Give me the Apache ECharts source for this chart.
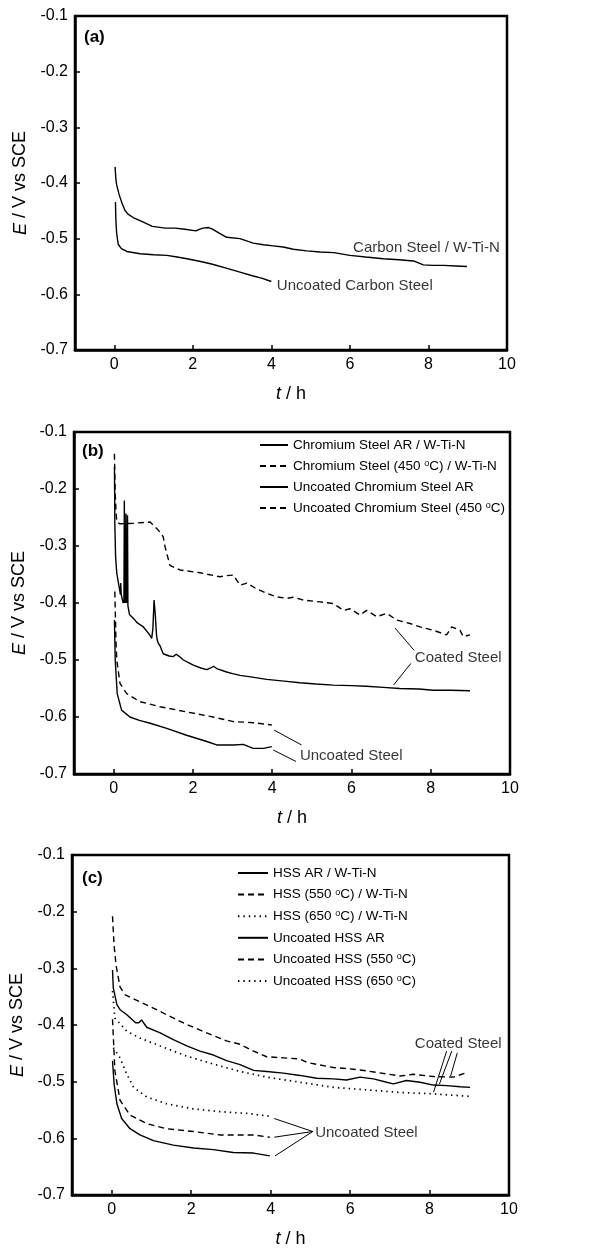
<!DOCTYPE html>
<html>
<head>
<meta charset="utf-8">
<script src="https://cdn.jsdelivr.net/npm/echarts@6/dist/echarts.min.js"></script>
<style>
  html, body { margin: 0; padding: 0; background: #fff; }
  #chart { width: 604px; height: 1249px; }
</style>
</head>
<body>
<div id="chart"></div>
<script>
// Open-circuit potential E (V vs SCE) against immersion time t (h)

// (a) carbon steel
const carbonCoated = [
  [0.02,-0.371],[0.04,-0.392],[0.06,-0.403],[0.12,-0.420],[0.2,-0.437],[0.27,-0.449],[0.35,-0.456],
  [0.48,-0.462],[0.7,-0.469],[0.97,-0.478],[1.3,-0.481],[1.55,-0.481],[1.8,-0.483],[2.08,-0.486],
  [2.18,-0.483],[2.26,-0.481],[2.4,-0.480],[2.5,-0.483],[2.65,-0.489],[2.86,-0.4975],[3.2,-0.500],
  [3.54,-0.508],[3.8,-0.511],[4.05,-0.513],[4.3,-0.515],[4.56,-0.519],[4.9,-0.522],[5.24,-0.524],
  [5.59,-0.525],[6.0,-0.530],[6.4,-0.533],[6.85,-0.536],[7.25,-0.538],[7.62,-0.540],[7.87,-0.547],
  [8.1,-0.548],[8.38,-0.548],[8.7,-0.549],[8.98,-0.550]
];
const carbonBare = [
  [0.03,-0.434],[0.04,-0.465],[0.06,-0.490],[0.1,-0.510],[0.18,-0.518],[0.32,-0.523],[0.66,-0.527],
  [1.0,-0.529],[1.34,-0.530],[1.6,-0.533],[1.85,-0.536],[2.2,-0.541],[2.5,-0.546],[2.85,-0.553],
  [3.2,-0.560],[3.54,-0.567],[3.75,-0.571],[4.0,-0.577]
];

// (b) chromium steel
const chromeCoatedAR = [
  [0.02,-0.161],[0.025,-0.2],[0.03,-0.26],[0.05,-0.32],[0.08,-0.348],[0.14,-0.372],[0.17,-0.385],
  [0.18,-0.365],[0.19,-0.385],[0.24,-0.400],[0.26,-0.395],[0.27,-0.220],[0.28,-0.400],[0.29,-0.260],
  [0.30,-0.400],[0.31,-0.243],[0.32,-0.400],[0.33,-0.270],[0.34,-0.400],[0.35,-0.246],[0.36,-0.405],
  [0.40,-0.420],[0.5,-0.427],[0.6,-0.435],[0.75,-0.442],[0.9,-0.455],[0.96,-0.462],[0.99,-0.445],
  [1.02,-0.395],[1.05,-0.420],[1.08,-0.455],[1.1,-0.465],[1.13,-0.471],[1.17,-0.475],[1.25,-0.489],
  [1.4,-0.493],[1.5,-0.494],[1.58,-0.490],[1.62,-0.488],[1.66,-0.494],[1.76,-0.500],[1.9,-0.505],
  [2.01,-0.509],[2.2,-0.514],[2.35,-0.517],[2.45,-0.514],[2.52,-0.511],[2.6,-0.515],[2.85,-0.521],
  [3.0,-0.524],[3.19,-0.527],[3.5,-0.530],[3.86,-0.534],[4.3,-0.537],[4.7,-0.540],[5.1,-0.542],
  [5.54,-0.544],[6.0,-0.545],[6.38,-0.546],[6.8,-0.548],[7.22,-0.550],[7.7,-0.551],[8.07,-0.553],
  [8.5,-0.553],[8.99,-0.554]
];
const chromeCoated450 = [
  [0.02,-0.138],[0.04,-0.208],[0.06,-0.240],[0.08,-0.258],[0.16,-0.261],[0.5,-0.260],[0.92,-0.258],
  [1.08,-0.269],[1.2,-0.278],[1.25,-0.284],[1.3,-0.302],[1.42,-0.334],[1.67,-0.342],[2.18,-0.347],
  [2.68,-0.354],[2.85,-0.352],[3.02,-0.351],[3.19,-0.369],[3.36,-0.365],[3.6,-0.375],[3.86,-0.383],
  [4.1,-0.389],[4.37,-0.392],[4.53,-0.390],[4.8,-0.395],[5.2,-0.398],[5.54,-0.401],[5.8,-0.413],
  [5.96,-0.410],[6.22,-0.421],[6.38,-0.413],[6.64,-0.424],[6.89,-0.418],[7.14,-0.430],[7.48,-0.436],
  [7.73,-0.442],[8.07,-0.448],[8.4,-0.456],[8.53,-0.442],[8.74,-0.448],[8.82,-0.459],[8.99,-0.456]
];
const chromeBareAR = [
  [0.02,-0.430],[0.04,-0.500],[0.09,-0.559],[0.2,-0.588],[0.41,-0.600],[0.65,-0.606],[0.92,-0.611],
  [1.34,-0.620],[1.84,-0.632],[2.35,-0.643],[2.6,-0.649],[3.02,-0.649],[3.27,-0.648],[3.52,-0.655],
  [3.78,-0.655],[3.99,-0.652]
];
const chromeBare450 = [
  [0.03,-0.380],[0.06,-0.470],[0.08,-0.500],[0.16,-0.541],[0.33,-0.559],[0.66,-0.573],[1.17,-0.582],
  [1.84,-0.591],[2.51,-0.600],[3.02,-0.608],[3.52,-0.610],[3.99,-0.614]
];

// (c) high-speed steel
const hssCoatedAR = [
  [0.02,-0.303],[0.04,-0.335],[0.13,-0.364],[0.21,-0.373],[0.38,-0.382],[0.6,-0.396],[0.68,-0.396],
  [0.75,-0.391],[0.88,-0.404],[1.22,-0.414],[1.55,-0.426],[1.89,-0.437],[2.22,-0.446],[2.56,-0.453],
  [2.89,-0.463],[3.23,-0.470],[3.57,-0.480],[3.9,-0.482],[4.32,-0.485],[4.74,-0.489],[5.16,-0.494],
  [5.58,-0.495],[5.91,-0.497],[6.25,-0.492],[6.59,-0.495],[6.92,-0.501],[7.09,-0.504],[7.42,-0.498],
  [7.76,-0.501],[8.1,-0.506],[8.43,-0.507],[8.77,-0.509],[9.02,-0.510]
];
const hssCoated550 = [
  [0.02,-0.208],[0.06,-0.260],[0.11,-0.295],[0.21,-0.333],[0.34,-0.347],[0.71,-0.359],[1.22,-0.376],
  [1.38,-0.382],[1.89,-0.399],[2.39,-0.414],[2.89,-0.428],[3.23,-0.434],[3.57,-0.446],[3.9,-0.456],
  [4.32,-0.458],[4.74,-0.460],[4.91,-0.466],[5.58,-0.475],[6.08,-0.478],[6.42,-0.481],[7.26,-0.490],
  [7.59,-0.487],[8.1,-0.491],[8.6,-0.492],[8.89,-0.485]
];
const hssCoated650 = [
  [0.02,-0.340],[0.08,-0.388],[0.38,-0.411],[0.71,-0.423],[1.22,-0.437],[1.89,-0.455],[2.56,-0.469],
  [3.23,-0.482],[3.9,-0.492],[4.74,-0.501],[5.58,-0.510],[6.42,-0.5145],[7.26,-0.519],[8.1,-0.5215],
  [9.02,-0.526]
];
const hssBareAR = [
  [0.02,-0.463],[0.06,-0.504],[0.13,-0.539],[0.25,-0.565],[0.46,-0.583],[0.71,-0.594],[1.05,-0.604],
  [1.55,-0.612],[2.06,-0.617],[2.56,-0.620],[3.06,-0.625],[3.57,-0.626],[3.98,-0.631]
];
const hssBare550 = [
  [0.02,-0.390],[0.08,-0.481],[0.21,-0.533],[0.46,-0.559],[0.88,-0.574],[1.38,-0.583],[2.06,-0.588],
  [2.73,-0.594],[3.23,-0.594],[3.57,-0.594],[3.98,-0.598]
];
const hssBare650 = [
  [0.04,-0.440],[0.21,-0.458],[0.38,-0.487],[0.55,-0.510],[0.88,-0.527],[1.38,-0.539],[2.06,-0.548],
  [2.73,-0.553],[3.4,-0.556],[3.98,-0.561]
];

// axis ticks
const timeTicks = [0, 2, 4, 6, 8];
const timeLabels = [0, 2, 4, 6, 8, 10];

// in-plot annotations: [t, E] anchor of the text, and leader lines
const notesA = [
  { text: 'Carbon Steel / W-Ti-N', at: [6.08, -0.517] },
  { text: 'Uncoated Carbon Steel', at: [4.14, -0.585] }
];
const notesB = [
  { text: 'Coated Steel', at: [7.6, -0.497] },
  { text: 'Uncoated Steel', at: [4.7, -0.668] }
];
const leadersB = [
  [[7.58, -0.483], [7.1, -0.444]],
  [[7.5, -0.506], [7.06, -0.544]],
  [[4.74, -0.649], [4.05, -0.623]],
  [[4.6, -0.678], [4.03, -0.658]]
];
const notesC = [
  { text: 'Coated Steel', at: [7.63, -0.433] },
  { text: 'Uncoated Steel', at: [5.12, -0.590] }
];
const leadersC = [
  [[8.43, -0.446], [8.1, -0.5186]],
  [[8.56, -0.446], [8.25, -0.504]],
  [[8.70, -0.449], [8.53, -0.490]],
  [[5.06, -0.588], [4.09, -0.565]],
  [[5.06, -0.588], [4.09, -0.598]],
  [[5.06, -0.588], [4.11, -0.631]]
];

const FONT = 'Liberation Sans, Arial, Helvetica, sans-serif';
const SOLID = 'solid';
const DASH = [6, 4];
const DOT = [1.4, 4];

const grids = [
  { left: 75, top: 16, width: 432, height: 334 },
  { left: 74, top: 432, width: 436, height: 342 },
  { left: 72, top: 855, width: 437, height: 344 }
];

const titleStyle = {
  color: '#000', fontSize: 18, fontFamily: FONT,
  rich: { i: { fontStyle: 'italic', fontSize: 18, fontFamily: FONT, color: '#000' } }
};

function xAxisFor(i) {
  return {
    gridIndex: i, type: 'value', min: -1, max: 10,
    axisLine: { show: true, onZero: false, lineStyle: { color: '#000', width: 2.5 } },
    axisTick: { show: true, inside: true, length: 5, customValues: timeTicks, lineStyle: { color: '#000', width: 1.5 } },
    axisLabel: { customValues: timeLabels, color: '#000', fontSize: 16, fontFamily: FONT, margin: 7 },
    splitLine: { show: false },
    name: '{i|t} / h', nameLocation: 'middle', nameGap: 35,
    nameTextStyle: titleStyle
  };
}
function yAxisFor(i) {
  return {
    gridIndex: i, type: 'value', min: -0.7, max: -0.1, interval: 0.1,
    axisLine: { show: true, onZero: false, lineStyle: { color: '#000', width: 2.5 } },
    axisTick: { show: true, inside: true, length: 5, lineStyle: { color: '#000', width: 1.5 } },
    axisLabel: { color: '#000', fontSize: 16, fontFamily: FONT, margin: 7,
      formatter: v => v.toFixed(1) },
    splitLine: { show: false },
    name: '{i|E} / V vs SCE', nameLocation: 'middle', nameGap: 43,
    nameTextStyle: titleStyle
  };
}

function curve(name, data, i, type) {
  return {
    name, type: 'line', xAxisIndex: i, yAxisIndex: i, data,
    symbol: 'none', smooth: false, silent: true,
    itemStyle: { color: '#000', opacity: 0 },
    lineStyle: { color: '#000', width: type === DOT ? 1.7 : 1.4, type }
  };
}
function noteSeries(notes, i) {
  return {
    type: 'scatter', xAxisIndex: i, yAxisIndex: i, symbolSize: 0, silent: true,
    data: notes.map(n => ({ value: n.at, label: { formatter: n.text } })),
    label: { show: true, position: [0, 0], align: 'left', verticalAlign: 'middle',
      color: '#000', fontSize: 15, fontFamily: FONT }
  };
}
function leaderSeries(lines, i) {
  return lines.map(seg => ({
    type: 'line', xAxisIndex: i, yAxisIndex: i, data: seg, symbol: 'none', silent: true,
    lineStyle: { color: '#000', width: 1 }
  }));
}

const legendText = {
  color: '#000', fontSize: 13.5, fontFamily: FONT,
  rich: { sup: { fontSize: 9, fontFamily: FONT, color: '#000', verticalAlign: 'top' } }
};
const legendFormatter = name => name.replace('°C', '{sup|o}C');

const namesB = ['Chromium Steel AR / W-Ti-N', 'Chromium Steel (450 °C) / W-Ti-N',
  'Uncoated Chromium Steel AR', 'Uncoated Chromium Steel (450 °C)'];
const namesC = ['HSS AR / W-Ti-N', 'HSS (550 °C) / W-Ti-N', 'HSS (650 °C) / W-Ti-N',
  'Uncoated HSS AR', 'Uncoated HSS (550 °C)', 'Uncoated HSS (650 °C)'];

const series = [
  curve('Carbon Steel / W-Ti-N', carbonCoated, 0, SOLID),
  curve('Uncoated Carbon Steel', carbonBare, 0, SOLID),
  noteSeries(notesA, 0),

  curve(namesB[0], chromeCoatedAR, 1, SOLID),
  curve(namesB[1], chromeCoated450, 1, DASH),
  curve(namesB[2], chromeBareAR, 1, SOLID),
  curve(namesB[3], chromeBare450, 1, DASH),
  noteSeries(notesB, 1),
  ...leaderSeries(leadersB, 1),

  curve(namesC[0], hssCoatedAR, 2, SOLID),
  curve(namesC[1], hssCoated550, 2, DASH),
  curve(namesC[2], hssCoated650, 2, DOT),
  curve(namesC[3], hssBareAR, 2, SOLID),
  curve(namesC[4], hssBare550, 2, DASH),
  curve(namesC[5], hssBare650, 2, DOT),
  noteSeries(notesC, 2),
  ...leaderSeries(leadersC, 2)
];

const panelTag = (text, left, top) => ({
  type: 'text', left, top,
  style: { text, fill: '#000', fontSize: 17, fontWeight: 'bold', fontFamily: FONT }
});

const legendBase = {
  orient: 'vertical', padding: 0, itemHeight: 14, selectedMode: false,
  textStyle: legendText, formatter: legendFormatter,
  itemStyle: { opacity: 0 }
};

const chart = echarts.init(document.getElementById('chart'), null, { renderer: 'canvas' });
chart.setOption({
  animation: false,
  backgroundColor: '#fff',
  grid: grids.map(g => Object.assign({ show: true, borderColor: '#000', borderWidth: 2.5, containLabel: false }, g)),
  xAxis: [0, 1, 2].map(xAxisFor),
  yAxis: [0, 1, 2].map(yAxisFor),
  legend: [
    Object.assign({}, legendBase, { data: namesB, left: 259, top: 438, itemWidth: 28, itemGap: 7 }),
    Object.assign({}, legendBase, { data: namesC, left: 237, top: 866, itemWidth: 30, itemGap: 7.6 })
  ],
  graphic: [
    panelTag('(a)', 84, 29),
    panelTag('(b)', 82, 443),
    panelTag('(c)', 82, 870)
  ],
  series
});
</script>
</body>
</html>
